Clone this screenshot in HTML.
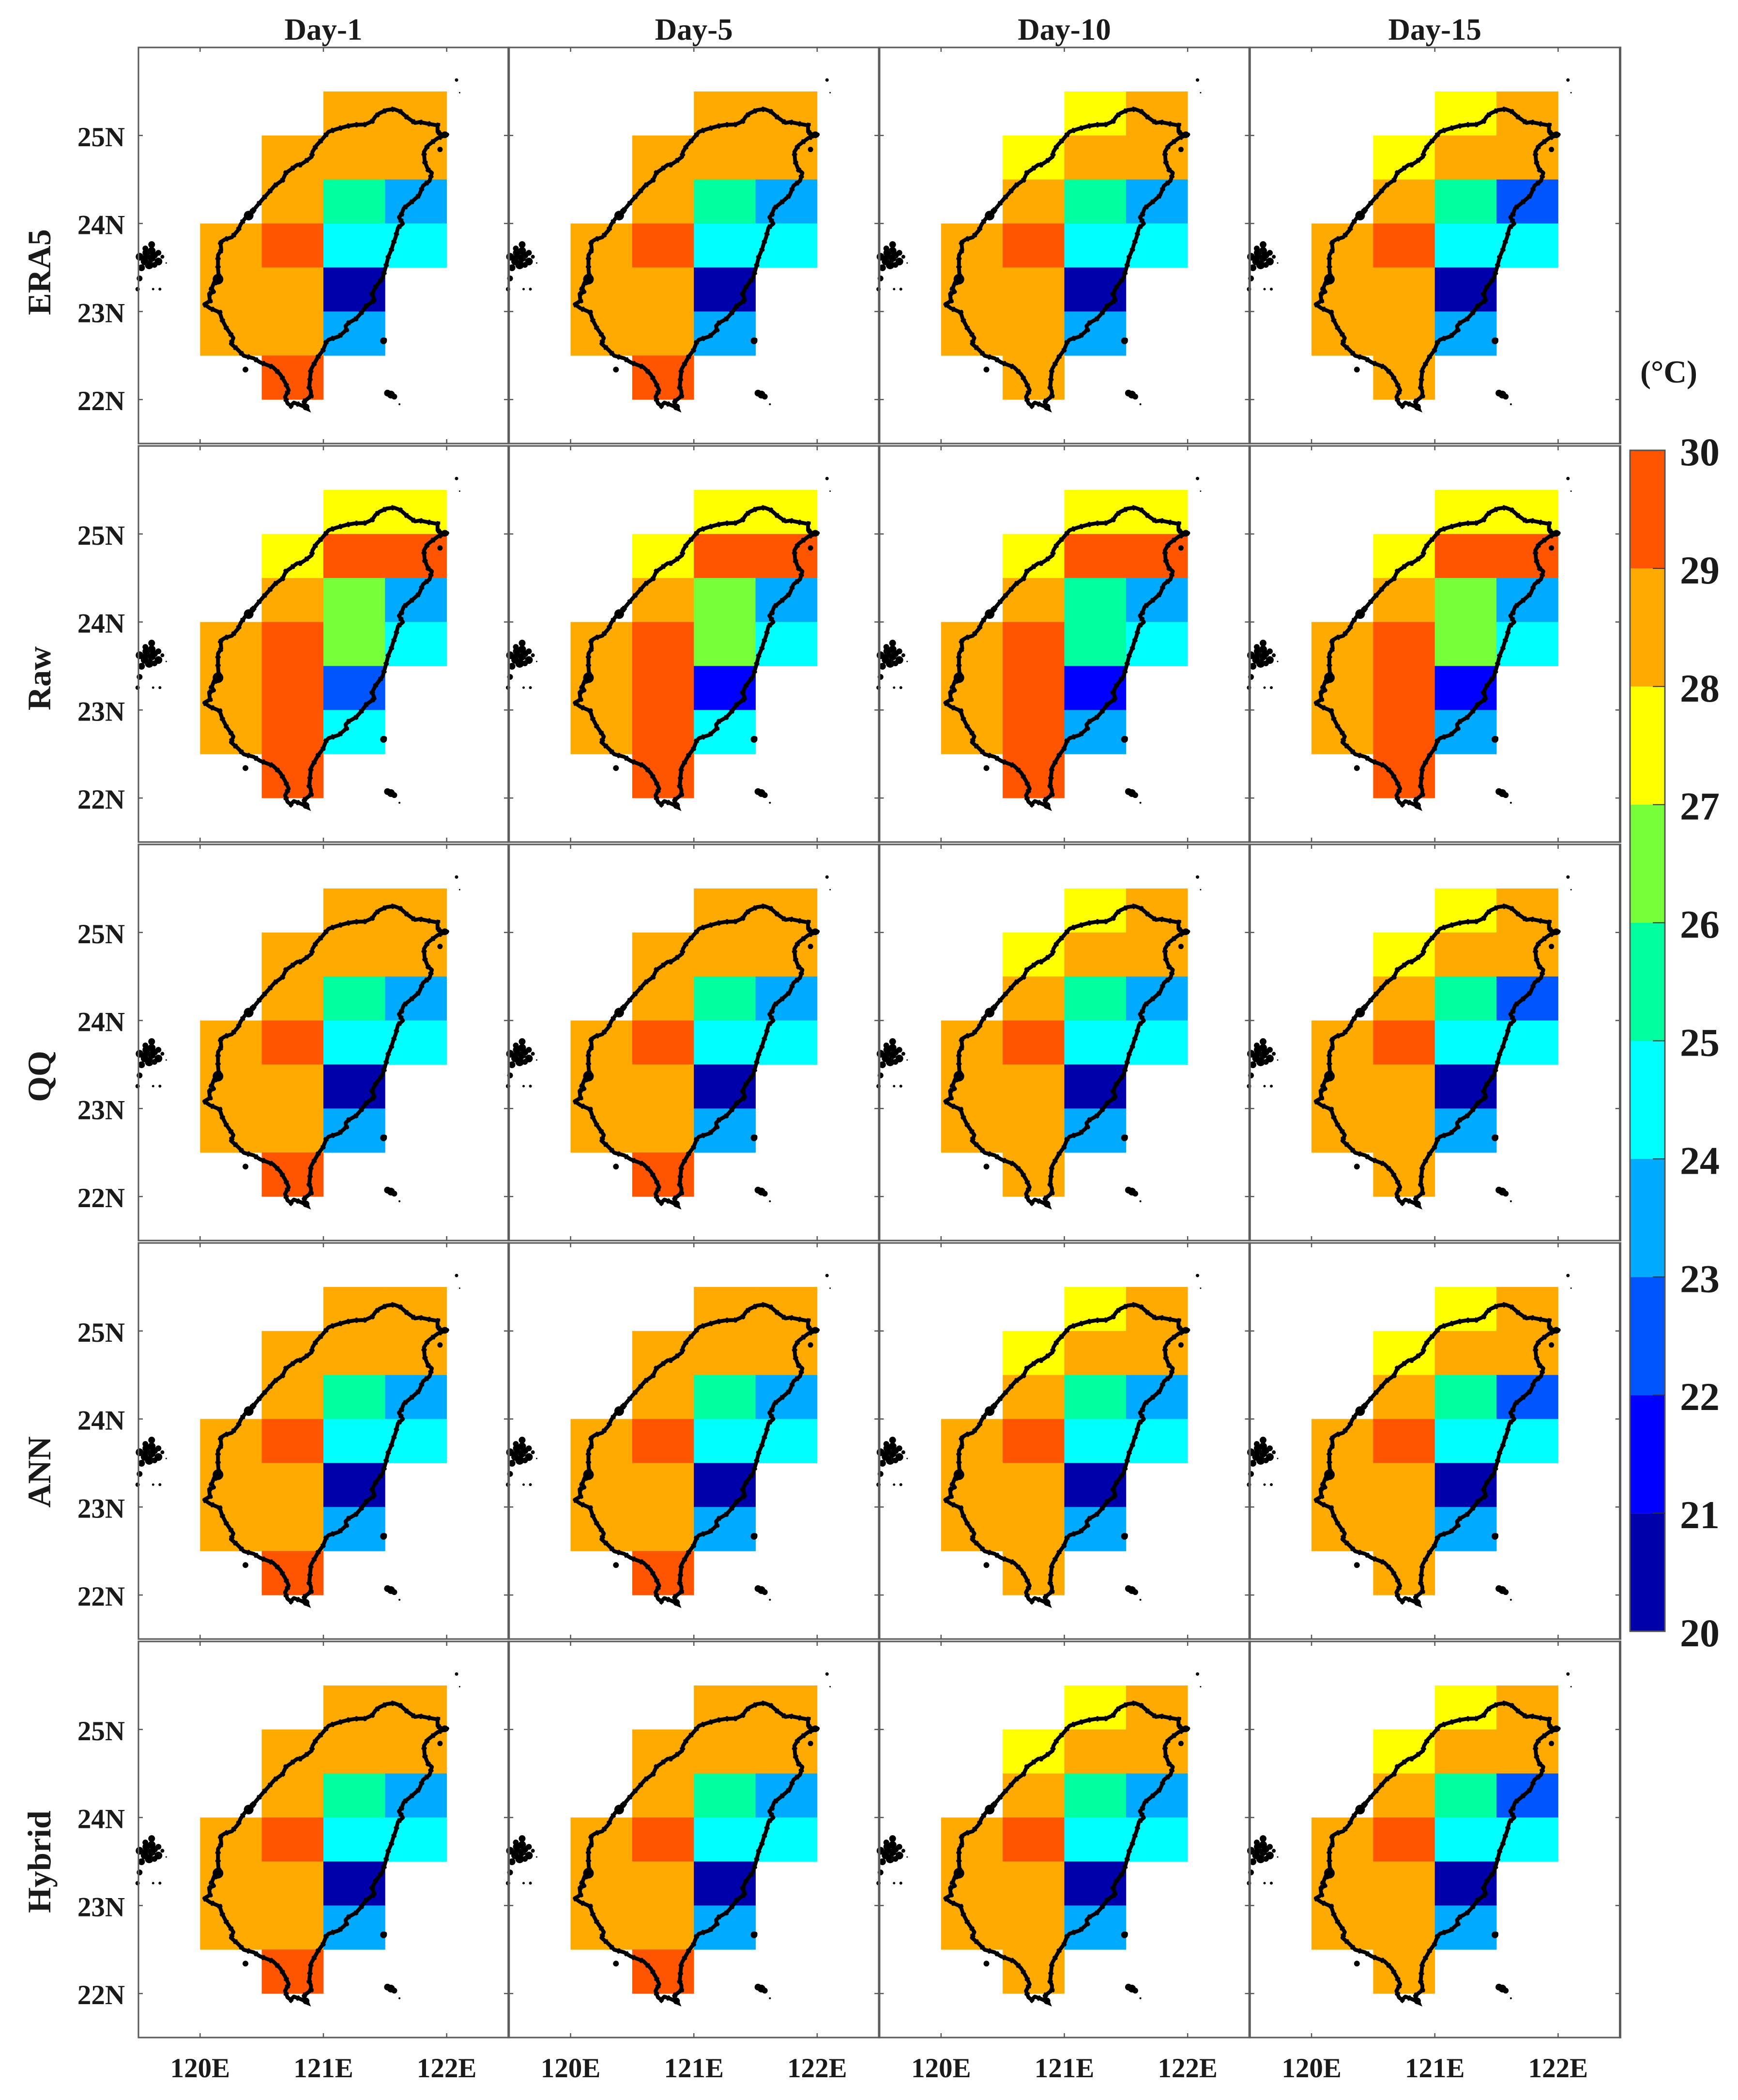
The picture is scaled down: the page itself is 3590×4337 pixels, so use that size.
<!DOCTYPE html>
<html lang="en">
<head>
<meta charset="utf-8">
<title>Temperature maps of Taiwan by lead day and method</title>
<style>
html,body{margin:0;padding:0;background:#fff;}
svg{display:block;}
text{font-family:"Liberation Serif",serif;font-weight:bold;fill:#1a1a1a;}
</style>
</head>
<body>
<svg id="chart" xmlns="http://www.w3.org/2000/svg" width="3590" height="4337" viewBox="0 0 3590 4337"></svg>
<script>
const dayLabels = ['Day-1', 'Day-5', 'Day-10', 'Day-15'];
const rowLabels = ['ERA5', 'Raw', 'QQ', 'ANN', 'Hybrid'];
const lonTicks = [120, 121, 122];
const latTicks = [22, 23, 24, 25];
const colorbarTicks = [20, 21, 22, 23, 24, 25, 26, 27, 28, 29, 30];
const bandColors = ['#0000AA', '#0000FF', '#0055FF', '#00AAFF', '#00FFFF', '#00FF9F', '#77FF3A', '#FFFF00', '#FFAA00', '#FF5500'];

// South-west corner (degrees) of each 0.5 degree grid cell
const cellLons = [121, 121.5, 120.5, 121, 121.5, 120.5, 121, 121.5, 120, 120.5, 121, 121.5, 120, 120.5, 121, 120, 120.5, 121, 120.5];
const cellLats = [25, 25, 24.5, 24.5, 24.5, 24, 24, 24, 23.5, 23.5, 23.5, 23.5, 23, 23, 23, 22.5, 22.5, 22.5, 22];

// Temperatures (deg C) per cell
const era5Day1 = [28.5, 28.5, 28.5, 28.5, 28.5, 28.5, 25.5, 23.5, 28.5, 29.5, 24.5, 24.5, 28.5, 28.5, 20.5, 28.5, 28.5, 23.5, 29.5];
const era5Day5 = [28.5, 28.5, 28.5, 28.5, 28.5, 28.5, 25.5, 23.5, 28.5, 29.5, 24.5, 24.5, 28.5, 28.5, 20.5, 28.5, 28.5, 23.5, 29.5];
const era5Day10 = [27.5, 28.5, 27.5, 28.5, 28.5, 28.5, 25.5, 23.5, 28.5, 29.5, 24.5, 24.5, 28.5, 28.5, 20.5, 28.5, 28.5, 23.5, 28.5];
const era5Day15 = [27.5, 28.5, 27.5, 28.5, 28.5, 28.5, 25.5, 22.5, 28.5, 29.5, 24.5, 24.5, 28.5, 28.5, 20.5, 28.5, 28.5, 23.5, 28.5];
const rawDay1 = [27.5, 27.5, 27.5, 29.5, 29.5, 28.5, 26.5, 23.5, 28.5, 29.5, 26.5, 24.5, 28.5, 29.5, 22.5, 28.5, 29.5, 24.5, 29.5];
const rawDay5 = [27.5, 27.5, 27.5, 29.5, 29.5, 28.5, 26.5, 23.5, 28.5, 29.5, 26.5, 24.5, 28.5, 29.5, 21.5, 28.5, 29.5, 24.5, 29.5];
const rawDay10 = [27.5, 27.5, 27.5, 29.5, 29.5, 28.5, 25.5, 23.5, 28.5, 29.5, 25.5, 24.5, 28.5, 29.5, 21.5, 28.5, 29.5, 23.5, 29.5];
const rawDay15 = [27.5, 27.5, 27.5, 29.5, 29.5, 28.5, 26.5, 23.5, 28.5, 29.5, 26.5, 24.5, 28.5, 29.5, 21.5, 28.5, 29.5, 23.5, 29.5];
const qqDay1 = [28.5, 28.5, 28.5, 28.5, 28.5, 28.5, 25.5, 23.5, 28.5, 29.5, 24.5, 24.5, 28.5, 28.5, 20.5, 28.5, 28.5, 23.5, 29.5];
const qqDay5 = [28.5, 28.5, 28.5, 28.5, 28.5, 28.5, 25.5, 23.5, 28.5, 29.5, 24.5, 24.5, 28.5, 28.5, 20.5, 28.5, 28.5, 23.5, 29.5];
const qqDay10 = [27.5, 28.5, 27.5, 28.5, 28.5, 28.5, 25.5, 23.5, 28.5, 29.5, 24.5, 24.5, 28.5, 28.5, 20.5, 28.5, 28.5, 23.5, 28.5];
const qqDay15 = [27.5, 28.5, 27.5, 28.5, 28.5, 28.5, 25.5, 22.5, 28.5, 29.5, 24.5, 24.5, 28.5, 28.5, 20.5, 28.5, 28.5, 23.5, 28.5];
const annDay1 = [28.5, 28.5, 28.5, 28.5, 28.5, 28.5, 25.5, 23.5, 28.5, 29.5, 24.5, 24.5, 28.5, 28.5, 20.5, 28.5, 28.5, 23.5, 29.5];
const annDay5 = [28.5, 28.5, 28.5, 28.5, 28.5, 28.5, 25.5, 23.5, 28.5, 29.5, 24.5, 24.5, 28.5, 28.5, 20.5, 28.5, 28.5, 23.5, 29.5];
const annDay10 = [27.5, 28.5, 27.5, 28.5, 28.5, 28.5, 25.5, 23.5, 28.5, 29.5, 24.5, 24.5, 28.5, 28.5, 20.5, 28.5, 28.5, 23.5, 28.5];
const annDay15 = [27.5, 28.5, 27.5, 28.5, 28.5, 28.5, 25.5, 22.5, 28.5, 29.5, 24.5, 24.5, 28.5, 28.5, 20.5, 28.5, 28.5, 23.5, 28.5];
const hybridDay1 = [28.5, 28.5, 28.5, 28.5, 28.5, 28.5, 25.5, 23.5, 28.5, 29.5, 24.5, 24.5, 28.5, 28.5, 20.5, 28.5, 28.5, 23.5, 29.5];
const hybridDay5 = [28.5, 28.5, 28.5, 28.5, 28.5, 28.5, 25.5, 23.5, 28.5, 29.5, 24.5, 24.5, 28.5, 28.5, 20.5, 28.5, 28.5, 23.5, 29.5];
const hybridDay10 = [27.5, 28.5, 27.5, 28.5, 28.5, 28.5, 25.5, 23.5, 28.5, 29.5, 24.5, 24.5, 28.5, 28.5, 20.5, 28.5, 28.5, 23.5, 28.5];
const hybridDay15 = [27.5, 28.5, 27.5, 28.5, 28.5, 28.5, 25.5, 22.5, 28.5, 29.5, 24.5, 24.5, 28.5, 28.5, 20.5, 28.5, 28.5, 23.5, 28.5];
const panelValues = [
  [era5Day1, era5Day5, era5Day10, era5Day15],
  [rawDay1, rawDay5, rawDay10, rawDay15],
  [qqDay1, qqDay5, qqDay10, qqDay15],
  [annDay1, annDay5, annDay10, annDay15],
  [hybridDay1, hybridDay5, hybridDay10, hybridDay15]
];

// Coastline of Taiwan as [lon, lat]
const coastline = [
  [122.005,25.011],[121.966,25.006],[121.926,25.042],[121.926,25.115],[121.848,25.134],[121.782,25.152],[121.743,25.143],
  [121.677,25.207],[121.625,25.271],[121.573,25.299],[121.514,25.289],[121.455,25.253],[121.422,25.216],[121.396,25.161],
  [121.337,25.125],[121.258,25.121],[121.193,25.106],[121.114,25.075],[121.042,25.042],[121.009,24.987],[120.983,24.945],
  [120.944,24.887],[120.911,24.813],[120.905,24.758],[120.852,24.703],[120.813,24.667],[120.787,24.667],[120.735,24.612],
  [120.696,24.576],[120.669,24.493],[120.604,24.429],[120.565,24.365],[120.512,24.283],[120.473,24.219],[120.434,24.154],
  [120.394,24.099],[120.362,24.054],[120.329,23.990],[120.309,23.925],[120.257,23.843],[120.204,23.821],[120.165,23.788],
  [120.172,23.697],[120.145,23.642],[120.145,23.495],[120.152,23.367],[120.113,23.330],[120.093,23.257],[120.113,23.223],
  [120.073,23.201],[120.080,23.119],[120.034,23.082],[120.080,23.037],[120.159,22.991],[120.178,22.908],[120.211,22.817],
  [120.270,22.698],[120.250,22.634],[120.303,22.570],[120.355,22.496],[120.434,22.469],[120.486,22.423],[120.591,22.368],
  [120.650,22.286],[120.689,22.194],[120.719,22.106],[120.689,22.029],[120.709,21.956],[120.735,21.929],[120.761,21.965],
  [120.813,21.938],[120.859,21.910],[120.840,21.974],[120.899,22.038],[120.899,22.093],[120.885,22.139],[120.899,22.341],
  [120.958,22.487],[120.997,22.560],[121.023,22.652],[121.042,22.680],[121.127,22.717],[121.186,22.790],[121.180,22.836],
  [121.206,22.872],[121.265,22.918],[121.311,22.991],[121.350,23.065],[121.415,23.129],[121.396,23.202],[121.422,23.275],
  [121.481,23.385],[121.507,23.513],[121.527,23.623],[121.553,23.706],[121.566,23.769],[121.586,23.843],[121.605,23.952],
  [121.645,23.998],[121.612,24.072],[121.632,24.099],[121.651,24.172],[121.717,24.246],[121.776,24.319],[121.808,24.429],
  [121.861,24.484],[121.880,24.575],[121.848,24.612],[121.822,24.703],[121.815,24.813],[121.848,24.887],[121.926,24.969],
  [122.005,25.011]
];

// Islands and rough coast spots as [lon, lat, size]
const islands = [
  [119.607,23.76,7],[119.556,23.716,6],[119.509,23.622,8],[119.564,23.667,8],[119.607,23.689,8],[119.662,23.667,6],
  [119.694,23.622,4],[119.587,23.53,9],[119.662,23.568,8],[119.525,23.497,7],[119.607,23.607,8],[119.725,23.551,1.5],
  [119.55,23.57,8],[119.63,23.64,7],[119.56,23.62,6],[119.63,23.53,6],
  [119.509,23.376,6],[119.493,23.254,4.5],[119.619,23.254,2.5],[119.674,23.254,3],
  [120.368,22.34,6],[121.488,22.667,7],[121.5,22.68,4],[121.52,22.073,7],[121.548,22.056,8],[121.575,22.033,6],[121.617,21.946,2],
  [121.946,24.841,5.5],[122.08,25.63,3.5],[122.105,25.486,1.5],
  [120.394,24.09,10],[120.425,24.14,6],[120.145,23.367,11],[120.125,23.33,6],[120.165,23.37,5],[120.859,21.915,7],[121.985,25.008,7]
];

const lonMin = 119.5, lonMax = 122.5, latMin = 21.5, latMax = 26;
const panelLeft = 286, panelTop = 98, panelW = 764, panelH = 818, colStep = 765.25, rowStep = 823;
const cbLeft = 3367, cbRight = 3439, cbTop = 930, cbBottom = 3369;
const svg = document.getElementById('chart');
const NS = 'http://www.w3.org/2000/svg';

function lonToX(col, lon) { return panelLeft + col * colStep + (lon - lonMin) / (lonMax - lonMin) * panelW; }
function latToY(row, lat) { return panelTop + row * rowStep + (latMax - lat) / (latMax - latMin) * panelH; }
function tempToY(t) { return cbBottom - (t - colorbarTicks[0]) / (colorbarTicks[colorbarTicks.length - 1] - colorbarTicks[0]) * (cbBottom - cbTop); }
function colorFor(v) { return bandColors[Math.max(0, Math.min(bandColors.length - 1, Math.floor(v) - 20))]; }
function make(parent, tag, attrs) {
  const node = document.createElementNS(NS, tag);
  for (const k in attrs) node.setAttribute(k, attrs[k]);
  parent.appendChild(node);
  return node;
}
function tick(parent, x1, y1, x2, y2) {
  const el = make(parent, 'line', { x1: x1, y1: y1, x2: x2, y2: y2, stroke: '#555', 'stroke-width': 2.5 });
  
  
}

function drawPanel(row, col) {
  const g = make(svg, 'g', {});
  
  
  const values = panelValues[row][col];
  const cellW = lonToX(col, 0.5) - lonToX(col, 0);
  const cellH = latToY(row, 0) - latToY(row, 0.5);
  values.forEach(function (v, i) {
    const cell = make(g, 'rect', {
      x: lonToX(col, cellLons[i]), y: latToY(row, cellLats[i] + 0.5),
      width: cellW + 0.4, height: cellH + 0.4, fill: colorFor(v)
    });
    
    
  });
  const coastPoints = coastline.map(function (p) { return lonToX(col, p[0]).toFixed(1) + ',' + latToY(row, p[1]).toFixed(1); }).join(' ');
  const coast = make(g, 'polyline', {
    points: coastPoints,
    fill: 'none', stroke: '#000', 'stroke-width': 8, 'stroke-linejoin': 'round', 'stroke-linecap': 'round'
  });
  
  
  const rough = make(g, 'polyline', {
    points: coastPoints,
    fill: 'none', stroke: '#000', 'stroke-width': 11, 'stroke-dasharray': '4 13'
  });
  
  
  islands.forEach(function (p) {
    const isl = make(g, 'circle', { cx: lonToX(col, p[0]), cy: latToY(row, p[1]), r: p[2], fill: '#000' });
    
    
  });
  const left = lonToX(col, lonMin), right = lonToX(col, lonMax), top = latToY(row, latMax), bottom = latToY(row, latMin);
  const frame = make(g, 'rect', { x: left, y: top, width: panelW, height: panelH, fill: 'none', stroke: '#5c5c5c', 'stroke-width': 3.2 });
  
  
  lonTicks.forEach(function (lon) {
    tick(g, lonToX(col, lon), top, lonToX(col, lon), top + 9);
    tick(g, lonToX(col, lon), bottom, lonToX(col, lon), bottom - 9);
  });
  latTicks.forEach(function (lat) {
    tick(g, left, latToY(row, lat), left + 9, latToY(row, lat));
    tick(g, right, latToY(row, lat), right - 9, latToY(row, lat));
  });
  if (col === 0) {
    latTicks.forEach(function (lat) {
      const lab = make(g, 'text', { x: 258, y: latToY(row, lat) + 22, 'font-size': 57, 'text-anchor': 'end' });
      lab.textContent = lat + 'N';
      
      
    });
  }
  if (row === rowLabels.length - 1) {
    lonTicks.forEach(function (lon) {
      const lab = make(g, 'text', { x: lonToX(col, lon), y: 4290, 'font-size': 57, 'text-anchor': 'middle' });
      lab.textContent = lon + 'E';
      
      
    });
  }
}

rowLabels.forEach(function (name, r) {
  dayLabels.forEach(function (day, c) { drawPanel(r, c); });
});

// Thicker dividers where neighbouring panels meet
[1, 2, 3, 4].forEach(function (c) {
  const x = panelLeft + c * colStep - 0.5;
  rowLabels.forEach(function (name, r) {
    const div = make(svg, 'line', { x1: x, x2: x, y1: panelTop + r * rowStep - 1.6, y2: panelTop + r * rowStep + panelH + 1.6, stroke: '#5c5c5c', 'stroke-width': 5 });
    
    
  });
});

dayLabels.forEach(function (day, c) {
  const t = make(svg, 'text', { x: lonToX(c, 121), y: 82, 'font-size': 63, 'text-anchor': 'middle' });
  t.textContent = day;
  
  
});

const rowLabelCentres = [562, 1401, 2223, 3040, 3845];
rowLabels.forEach(function (name, r) {
  const t = make(svg, 'text', { x: 0, y: 0, 'font-size': 68, 'text-anchor': 'middle', transform: 'translate(104 ' + rowLabelCentres[r] + ') rotate(-90)' });
  t.textContent = name;
  
  
});

// Colour bar
bandColors.forEach(function (color, i) {
  const lo = colorbarTicks[i], hi = colorbarTicks[i + 1];
  const seg = make(svg, 'rect', { x: cbLeft, y: tempToY(hi), width: cbRight - cbLeft, height: tempToY(lo) - tempToY(hi), fill: color });
  
  
});
const cbFrame = make(svg, 'rect', { x: cbLeft, y: cbTop, width: cbRight - cbLeft, height: cbBottom - cbTop, fill: 'none', stroke: '#555', 'stroke-width': 3 });


colorbarTicks.forEach(function (t) {
  const y = tempToY(t);
  if (t !== colorbarTicks[0] && t !== colorbarTicks[colorbarTicks.length - 1]) {
    const m = make(svg, 'line', { x1: cbRight - 25, x2: cbRight, y1: y, y2: y, stroke: '#333', 'stroke-width': 2 });
    
    
  }
  const lab = make(svg, 'text', { x: 3470, y: y + 31, 'font-size': 82 });
  lab.textContent = t;
  
  
});
const unit = make(svg, 'text', { x: 3447, y: 790, 'font-size': 66, 'text-anchor': 'middle' });
unit.textContent = '(°C)';


</script>
</body>
</html>
